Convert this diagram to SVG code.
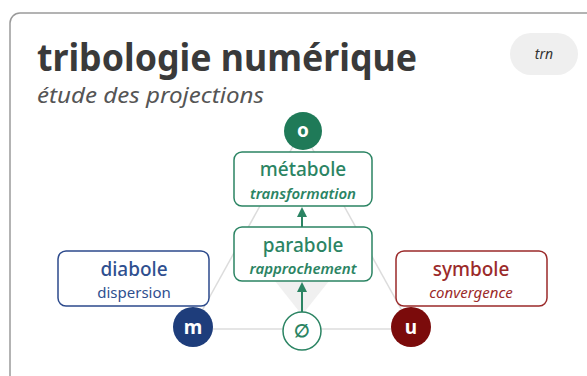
<svg xmlns="http://www.w3.org/2000/svg" width="587" height="376" viewBox="0 0 587 376">
<defs>
<style>
.t{font-family:"Noto Sans","Liberation Sans",sans-serif}
.box{fill:#fff;stroke-width:1.5}
.g{stroke:#2b8463}.gt{fill:#2b8463}
.b{stroke:#2c4a8c}.bt{fill:#2f4f8f}
.r{stroke:#9b2a2a}.rt{fill:#9b2a2a}
.lbl{font-size:19px;text-anchor:middle;font-weight:500}
.sub{font-size:15px;text-anchor:middle}
.it{font-style:italic}
.nl{font-size:19px;font-weight:bold;fill:#fff;text-anchor:middle}
.edge{stroke:#dcdcdc;stroke-width:1.5;fill:none}
.arr{stroke:#2b8463;stroke-width:2;fill:none}
</style>
<marker id="ah" viewBox="0 0 10 10" refX="8" refY="5" markerWidth="5" markerHeight="5" orient="auto">
<path d="M0,0 L10,5 L0,10 z" fill="#2b8463"/>
</marker>
</defs>
<rect x="10" y="13" width="600" height="400" rx="10" fill="#fff" stroke="#9a9a9a" stroke-width="1.5"/>
<text class="t" x="37" y="71" font-size="37" font-weight="bold" fill="#3a3a3a" textLength="380" lengthAdjust="spacingAndGlyphs">tribologie numérique</text>
<text class="t it" x="37" y="103" font-size="22" fill="#555" textLength="227" lengthAdjust="spacingAndGlyphs">étude des projections</text>
<g id="badge">
<rect x="510" y="33" width="68" height="42" rx="21" fill="#efefef"/>
<text class="t it" x="544" y="59" font-size="14" fill="#333" text-anchor="middle">trn</text>
</g>
<g id="connectors">
<polygon points="302,315 275,281 329,281" fill="#f0f0f0"/>
<line class="edge" x1="193" y1="327" x2="302" y2="130"/>
<line class="edge" x1="411" y1="327" x2="302" y2="130"/>
<line class="edge" x1="193" y1="329" x2="411" y2="329"/>
<line class="arr" x1="302" y1="227" x2="302" y2="209" marker-end="url(#ah)"/>
<line class="arr" x1="302" y1="312" x2="302" y2="284" marker-end="url(#ah)"/>
</g>
<g id="o">
<circle cx="303" cy="131" r="19" fill="#1f7a58"/>
<text class="t nl" x="303" y="137">o</text>
</g>
<g id="metabole">
<rect class="box g" x="234" y="152" width="138" height="54" rx="8"/>
<text class="t lbl gt" x="303" y="175.5">métabole</text>
<text class="t sub it gt" x="303" y="198.5" font-weight="600">transformation</text>
</g>
<g id="parabole">
<rect class="box g" x="234" y="227" width="138" height="54" rx="8"/>
<text class="t lbl gt" x="303" y="251.5">parabole</text>
<text class="t sub it gt" x="303" y="274" font-weight="600">rapprochement</text>
</g>
<g id="diabole">
<rect class="box b" x="58" y="251" width="151" height="55" rx="8"/>
<text class="t lbl bt" x="134" y="275.5">diabole</text>
<text class="t sub bt" x="134" y="298">dispersion</text>
</g>
<g id="symbole">
<rect class="box r" x="396" y="251" width="151" height="55" rx="8"/>
<text class="t lbl rt" x="471" y="275.5">symbole</text>
<text class="t sub it rt" x="471" y="298">convergence</text>
</g>
<g id="m">
<circle cx="193" cy="327" r="20" fill="#1e3d7b"/>
<text class="t nl" x="193" y="334">m</text>
</g>
<g id="u">
<circle cx="411" cy="327" r="20" fill="#7b0b0b"/>
<text class="t nl" x="411" y="334">u</text>
</g>
<g id="empty">
<circle cx="302" cy="331" r="19" fill="#fff" stroke="#2b8463" stroke-width="1.5"/>
<text class="t gt" x="302" y="337" font-size="18" font-weight="bold" text-anchor="middle">∅</text>
</g>
</svg>
